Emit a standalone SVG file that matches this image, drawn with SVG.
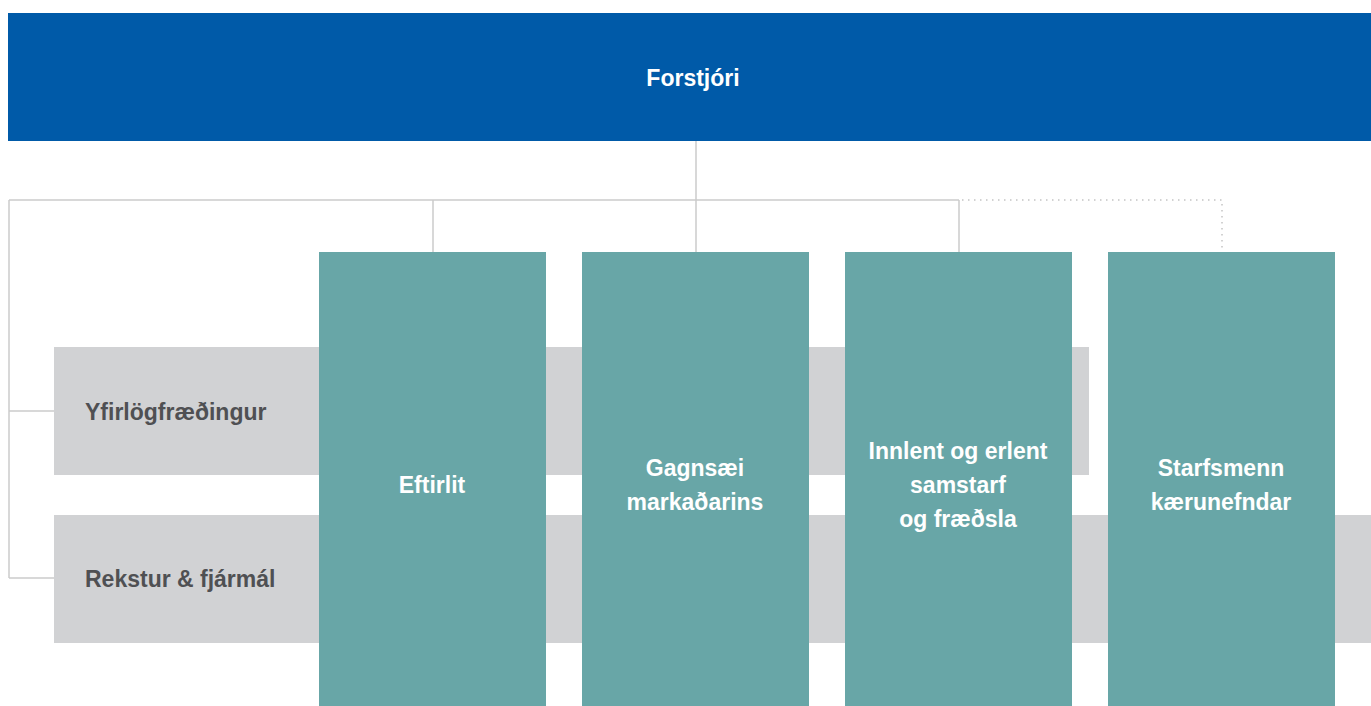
<svg xmlns="http://www.w3.org/2000/svg" width="1371" height="706" viewBox="0 0 1371 706">
<style>
.band{fill:#D1D2D4}
.unit{fill:#68A6A7}
.wt{fill:#fff;font-family:"Liberation Sans",Arial,sans-serif;font-weight:bold;font-size:23px;text-anchor:middle}
.gt{fill:#4F5053;font-family:"Liberation Sans",Arial,sans-serif;font-weight:bold;font-size:23px}
.ln{fill:none;stroke:#CBCBCB;stroke-width:1.5}
.dot{fill:none;stroke:#C4C4C4;stroke-width:1.5;stroke-dasharray:1.5 4.5}
</style>
<rect width="1371" height="706" fill="#fff"/>
<g id="connectors">
<path class="ln" d="M696 141V200M9 200H959M433 200V252M696 200V252M959 200V252M9 200V578M9 411H54M9 578H54"/>
<path class="dot" d="M962 200H1222V252"/>
</g>
<g id="forstjori">
<rect x="8" y="13" width="1363" height="128" fill="#005AA8"/>
<text class="wt" x="693" y="86">Forstjóri</text>
</g>
<g id="yfirlogfraedingur">
<rect class="band" x="54" y="347" width="1035" height="128"/>
<text class="gt" x="85" y="420">Yfirlögfræðingur</text>
</g>
<g id="rekstur">
<rect class="band" x="54" y="515" width="1317" height="128"/>
<text class="gt" x="85" y="587">Rekstur &amp; fjármál</text>
</g>
<g id="eftirlit">
<rect class="unit" x="319" y="252" width="227" height="454"/>
<text class="wt" x="432" y="493">Eftirlit</text>
</g>
<g id="gagnsaei">
<rect class="unit" x="582" y="252" width="227" height="454"/>
<text class="wt" x="695" y="476">Gagnsæi</text>
<text class="wt" x="695" y="510">markaðarins</text>
</g>
<g id="innlent">
<rect class="unit" x="845" y="252" width="227" height="454"/>
<text class="wt" x="958" y="459">Innlent og erlent</text>
<text class="wt" x="958" y="493">samstarf</text>
<text class="wt" x="958" y="527">og fræðsla</text>
</g>
<g id="starfsmenn">
<rect class="unit" x="1108" y="252" width="227" height="454"/>
<text class="wt" x="1221" y="476">Starfsmenn</text>
<text class="wt" x="1221" y="510">kærunefndar</text>
</g>
</svg>
